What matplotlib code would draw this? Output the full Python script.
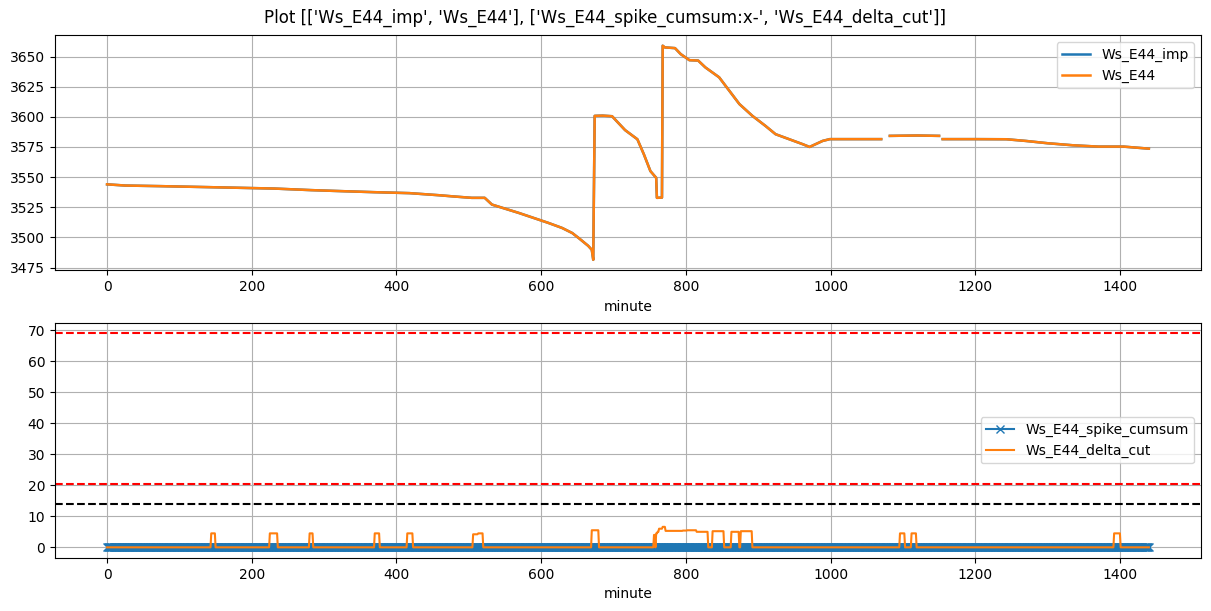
import numpy as np
import matplotlib
matplotlib.use('Agg')
import matplotlib.pyplot as plt

# top panel: Ws_E44 (minute, value), NaN = gap
top_minutes = [0, 25, 74, 138, 231, 282, 327, 369, 418, 458, 480, 504, 522, 532, 569,
               610, 629, 643, 652, 665, 670, 672, 674, 685, 698, 716, 733, 742, 751,
               759, 760, 767, 768, 771, 785, 793, 805, 817, 827, 846, 860, 874, 892,
               910, 924, 943, 962, 971, 989, 999, 1030, 1070, 1071, 1081, 1082, 1120,
               1150, 1151, 1154, 1155, 1200, 1243, 1270, 1300, 1335, 1370, 1405, 1440]
top_values = [3544.0, 3543.0, 3542.5, 3541.7, 3540.5, 3539.2, 3538.3, 3537.5, 3536.7, 3535.0,
              3533.9, 3532.8, 3532.8, 3527.2, 3520.3,
              3512.0, 3507.8, 3503.6, 3499.4, 3493.0, 3489.7, 3481.4, 3600.8, 3601.0, 3600.5,
              3589.0, 3581.4, 3568.9, 3555.0,
              3549.4, 3532.8, 3533.0, 3659.0, 3657.6, 3657.0, 3652.0, 3647.0, 3646.7, 3641.0,
              3632.8, 3621.7, 3610.6, 3600.8,
              3592.5, 3585.6, 3581.4, 3577.2, 3575.0, 3580.0, 3581.5, 3581.5, 3581.5, np.nan,
              np.nan, 3584.2, 3584.5,
              3584.2, np.nan, np.nan, 3581.5, 3581.5, 3581.4, 3580.0, 3578.1, 3576.4, 3575.3,
              3575.3, 3573.6]

# bottom panel: delta_cut pulses (start minute, end minute, height)
pulse_start = [144, 225, 280, 370, 415, 506, 509, 513, 670, 756, 759, 761, 763, 768, 772,
               796, 798, 800, 802, 815, 837, 863, 876, 1096, 1112, 1392]
pulse_end = [149, 235, 284, 376, 422, 508, 512, 519, 679, 757, 760, 762, 768, 772, 795,
             797, 799, 801, 815, 830, 852, 873, 891, 1102, 1118, 1400]
pulse_height = [4.5, 4.5, 4.5, 4.5, 4.5, 4.2, 4.2, 4.5, 5.5, 4.0, 4.5, 5.0, 6.0, 6.6, 5.3,
                5.4, 5.4, 5.4, 5.5, 5.0, 5.2, 5.0, 5.2, 4.5, 4.5, 4.5]

n_minutes = 1441
thresh_red = [69.0, 20.5]
thresh_black = 14.0

minutes = np.arange(n_minutes)
spike_cumsum = np.zeros(n_minutes)
delta_cut = np.zeros(n_minutes)
for s, e, h in zip(pulse_start, pulse_end, pulse_height):
    delta_cut[s:e + 1] = h

fig, (ax1, ax2) = plt.subplots(2, 1, figsize=(12.11, 6.11), dpi=100)
fig.subplots_adjust(left=0.0454, right=0.9917, top=0.9427, bottom=0.0867, hspace=0.221)
fig.suptitle("Plot [['Ws_E44_imp', 'Ws_E44'], ['Ws_E44_spike_cumsum:x-', 'Ws_E44_delta_cut']]",
             y=0.985)

ax1.plot(top_minutes, top_values, lw=1.8, label='Ws_E44_imp')
ax1.plot(top_minutes, top_values, lw=1.8, label='Ws_E44')
ax1.set_xlabel('minute')
ax1.grid(True)
ax1.legend(loc='upper right')

ax2.plot(minutes, spike_cumsum, 'x-', label='Ws_E44_spike_cumsum')
ax2.plot(minutes, delta_cut, label='Ws_E44_delta_cut')
for v in thresh_red:
    ax2.axhline(v, color='red', linestyle='--')
ax2.axhline(thresh_black, color='black', linestyle='--')
ax2.set_xlabel('minute')
ax2.grid(True)
ax2.legend(loc='center right')

fig.savefig('out.png')
